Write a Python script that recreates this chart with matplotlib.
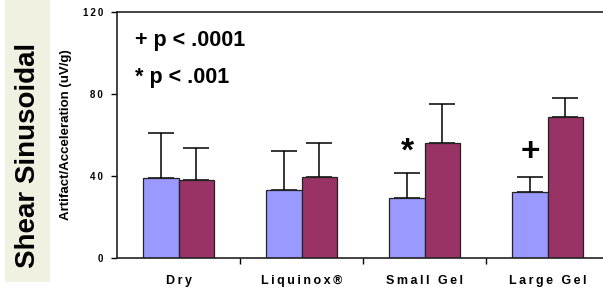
import matplotlib
matplotlib.use('Agg')
import matplotlib.pyplot as plt
import numpy as np

plt.rcParams['font.family'] = ['Liberation Sans', 'DejaVu Sans']
plt.rcParams['font.weight'] = 'bold'

categories = ['Dry', 'Liquinox®', 'Small Gel', 'Large Gel']
blue_vals = [39.2, 33.3, 29.3, 32.0]
blue_err = [21.9, 19.0, 12.3, 7.5]
red_vals = [37.9, 39.4, 56.3, 68.8]
red_err = [15.9, 16.9, 18.7, 9.1]
yticks = [0, 40, 80, 120]
marks = {2: '*', 3: '+'}   # group -> marker above blue bar
mark_y = 51.5

BLUE = '#9999ff'
RED = '#993366'


def spaced(s):
    # letter spacing like the original slide
    return '\u2009'.join(s)


W, H = 603, 290
fig = plt.figure(figsize=(W / 100, H / 100), dpi=100)
fig.patch.set_facecolor('white')

# beige side strip
fig.add_artist(plt.Rectangle((5 / W, 8 / H), 45 / W, 1 - 8 / H,
                             transform=fig.transFigure, facecolor='#f1f1e1',
                             edgecolor='none', zorder=0))
fig.text(28 / W, 1 - 155 / H, 'Shear Sinusoidal', rotation=90, fontsize=20,
         fontweight='bold', ha='center', va='center', color='black')

ax = fig.add_axes([117 / W, 32 / H, (W - 117) / W + 0.01, 246 / H])
x = np.arange(len(categories))
bw = 0.285

ax.bar(x - bw / 2, blue_vals, bw, color=BLUE, edgecolor='#222222', linewidth=0.9, zorder=2)
ax.bar(x + bw / 2, red_vals, bw, color=RED, edgecolor='#222222', linewidth=0.9, zorder=2)
ax.errorbar(x - bw / 2, blue_vals, yerr=[np.zeros(4), blue_err], fmt='none',
            ecolor='black', elinewidth=1.1, capsize=9.5, capthick=1.1, zorder=1)
ax.errorbar(x + bw / 2, red_vals, yerr=[np.zeros(4), red_err], fmt='none',
            ecolor='black', elinewidth=1.1, capsize=9.5, capthick=1.1, zorder=1)

for g, m in marks.items():
    ax.text(g - bw / 2, mark_y, m, fontsize=24, fontweight='heavy',
            ha='center', va='center')

ax.set_xlim(-0.5, 3.5)
ax.set_ylim(0, 120)
ax.set_yticks(yticks)
ax.set_yticklabels([spaced(str(t)) for t in yticks], fontsize=7, fontweight='bold')
ax.tick_params(axis='y', length=4, width=1, direction='out', pad=6)

ax.set_xticks([0.5, 1.5, 2.5])
ax.set_xticklabels([])
ax.tick_params(axis='x', which='major', length=4, width=1, direction='out')
ax.set_xticks(x, minor=True)
ax.set_xticklabels([spaced(c) for c in categories], minor=True, fontsize=9,
                   fontweight='bold')
ax.tick_params(axis='x', which='minor', length=0, pad=12)

for s in ['left', 'bottom', 'top']:
    ax.spines[s].set_linewidth(1.2)
    ax.spines[s].set_color('#222222')
ax.spines['right'].set_visible(False)

ax.set_ylabel('Artifact/Acceleration (uV/g)', fontsize=9.5, fontweight='bold',
              labelpad=8)

fig.text(135 / W, 1 - 40 / H, '+ p < .0001', fontsize=15.5, fontweight='bold',
         ha='left', va='center')
fig.text(135 / W, 1 - 77 / H, '* p < .001', fontsize=15.5, fontweight='bold',
         ha='left', va='center')

fig.savefig('out.png', dpi=100)
